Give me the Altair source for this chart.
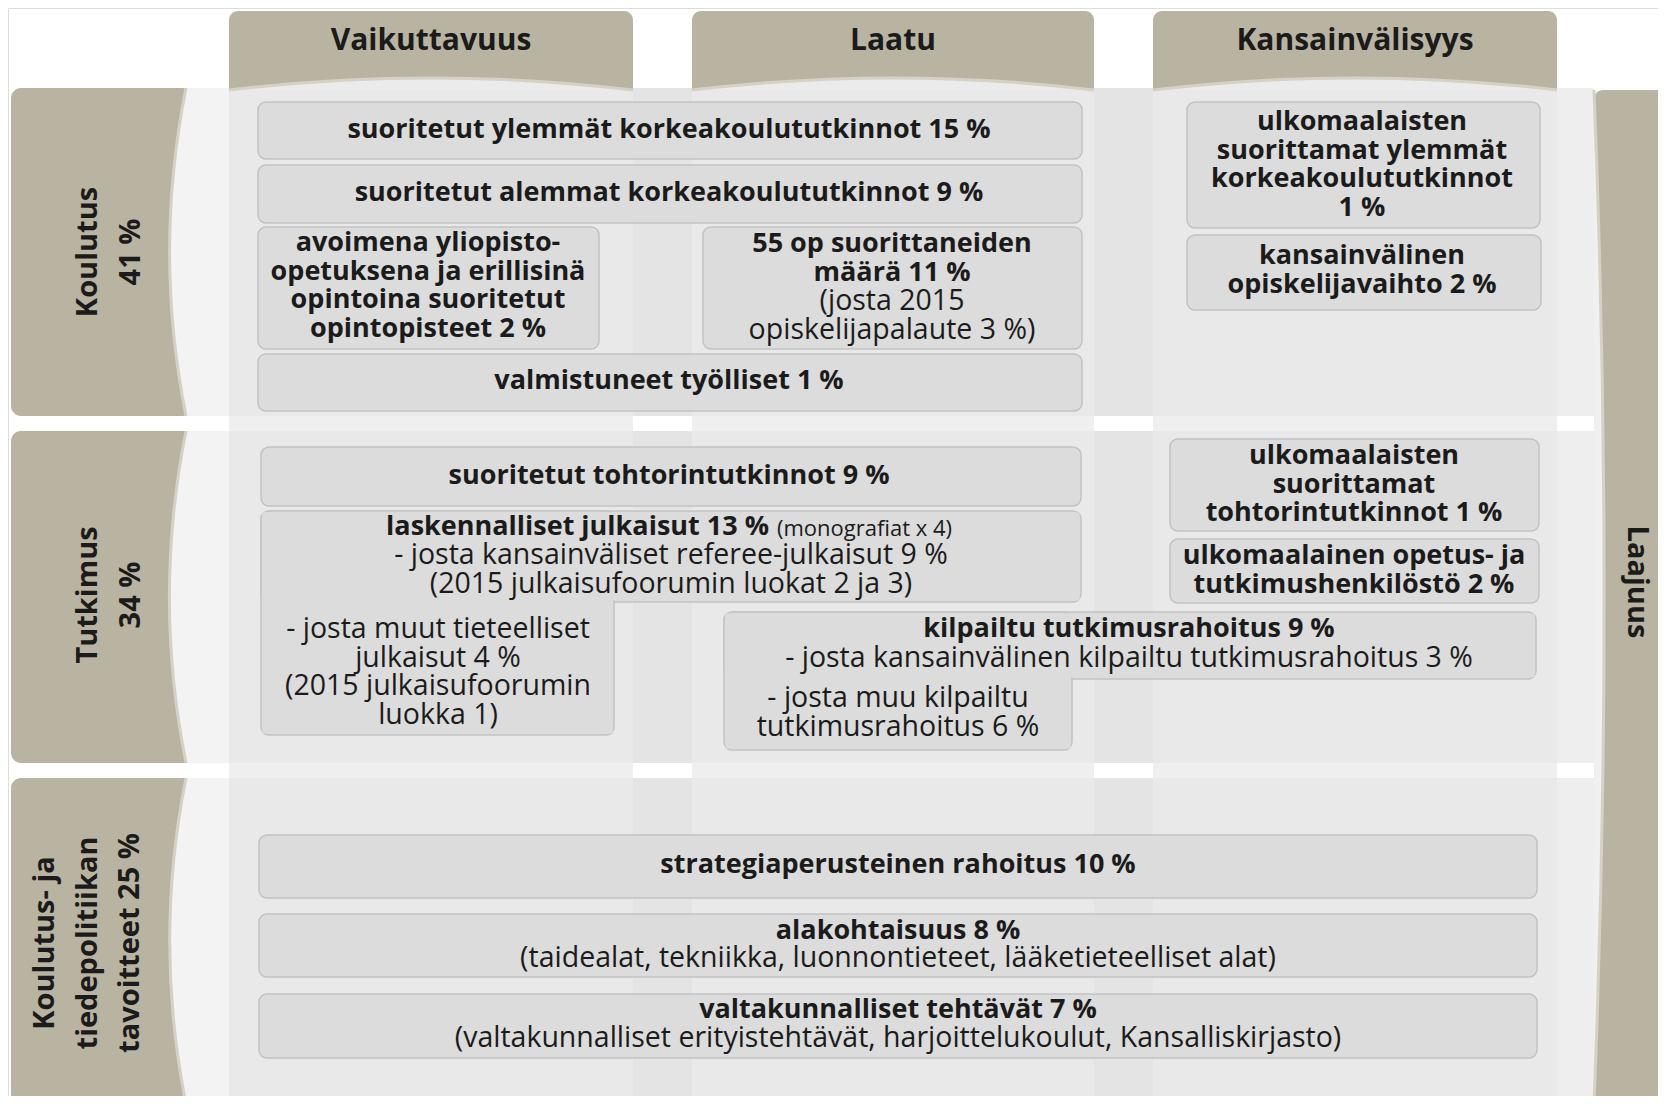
import altair as alt
import pandas as pd

# ---------------- content ----------------
col_names = ["Vaikuttavuus", "Laatu", "Kansainvälisyys"]
row_names = ["Koulutus\n41 %", "Tutkimus\n34 %",
             "Koulutus- ja\ntiedepolitiikan\ntavoitteet  25 %"]
side_name = "Laajuus"

bold_texts = [
    "suoritetut ylemmät korkeakoulututkinnot 15 %",
    "suoritetut alemmat korkeakoulututkinnot  9 %",
    "avoimena yliopisto-\nopetuksena ja erillisinä\nopintoina suoritetut\nopintopisteet 2 %",
    "55 op suorittaneiden\nmäärä 11 %",
    "valmistuneet työlliset 1 %",
    "ulkomaalaisten\nsuorittamat ylemmät\nkorkeakoulututkinnot\n1 %",
    "kansainvälinen\nopiskelijavaihto 2 %",
    "suoritetut tohtorintutkinnot 9 %",
    "ulkomaalaisten\nsuorittamat\ntohtorintutkinnot 1 %",
    "ulkomaalainen opetus- ja\ntutkimushenkilöstö 2 %",
    "kilpailtu tutkimusrahoitus 9 %",
    "strategiaperusteinen rahoitus 10 %",
    "alakohtaisuus 8 %",
    "valtakunnalliset tehtävät 7 %",
]
normal_texts = [
    "(josta 2015\nopiskelijapalaute 3 %)",
    "- josta kansainväliset referee-julkaisut 9 %\n(2015 julkaisufoorumin luokat 2 ja 3)",
    "- josta muut tieteelliset\njulkaisut 4 %\n(2015 julkaisufoorumin\nluokka 1)",
    "- josta kansainvälinen kilpailtu tutkimusrahoitus 3 %",
    "- josta muu kilpailtu\ntutkimusrahoitus 6 %",
    "(taidealat, tekniikka, luonnontieteet, lääketieteelliset alat)",
    "(valtakunnalliset erityistehtävät, harjoittelukoulut, Kansalliskirjasto)",
]
lead_text = "laskennalliset julkaisut 13 %"
note_text = "(monografiat x 4)"

# ---------------- layout (reference pixel frame) ----------------
col_left = [229, 692, 1153]
col_right = [633, 1094, 1557]
col_tab_top = 11
col_tab_bottom = 90
col_label_y = 41

row_top = [88, 431, 778]
row_bottom = [416, 763, 1104]
row_label_x = [88, 88, 45]      # first text line
row_label_y = [252, 595, 943]
tab_left, tab_right = 11, 186
band_right = 1594
side_right = 1666
side_label_x = 1637
side_label_y = 582

box_x0 = [258, 258, 258, 703, 258, 1187, 1187, 261, 261, 261, 1170, 1170, 724, 724, 259, 259, 259]
box_x1 = [1082, 1082, 599, 1082, 1082, 1540, 1541, 1081, 1081, 614, 1539, 1539, 1536, 1072, 1537, 1537, 1537]
box_y0 = [102, 165, 227, 227, 354, 102, 235, 447, 511, 511, 439, 539, 612, 612, 835, 914, 994]
box_y1 = [159, 223, 349, 349, 411, 228, 310, 506, 602, 735, 531, 603, 679, 750, 898, 977, 1058]
box_joined = [0, 0, 0, 0, 0, 0, 0, 0, 1, 1, 0, 0, 1, 1, 0, 0, 0]

# y of the first line of each text block
bold_x = [669, 669, 428, 892, 669, 1362, 1362, 669, 1354, 1354, 1129, 898, 898, 898]
bold_y = [130, 193, 243, 244, 381, 122, 256, 476, 456, 556, 629, 865, 931, 1010]
normal_x = [892, 671, 438, 1129, 898, 898, 898]
normal_y = [301, 555, 629, 658, 698, 958, 1038]
lead_x_end, lead_y = 769, 527
note_x, note_y = 777, 529

# ---------------- styling ----------------
TAUPE = "#b9b4a2"
RIM = "#d5d1c5"
BAND = "#e4e4e4"
BOX = "#dcdcdc"
BOX_EDGE = "#c2c2c2"
INK = "#1b1b1b"
FONT = "Open Sans"
LINE = 28.5

XS = alt.Scale(domain=[8, 1658], nice=False, zero=False)
YS = alt.Scale(domain=[8, 1096], nice=False, zero=False, reverse=True)


def rect_layer(df, **mark):
    return alt.Chart(df).mark_rect(**mark).encode(
        x=alt.X("x0:Q", scale=XS, axis=None), x2="x1:Q",
        y=alt.Y("y0:Q", scale=YS, axis=None), y2="y1:Q")


def point_layer(df, **mark):
    return alt.Chart(df).mark_point(**mark).encode(
        x=alt.X("x:Q", scale=XS, axis=None),
        y=alt.Y("y:Q", scale=YS, axis=None),
        size=alt.Size("s:Q", scale=None, legend=None))


def text_layer(df, **mark):
    return alt.Chart(df).mark_text(lineBreak="\n", color=INK, font=FONT, **mark).encode(
        x=alt.X("x:Q", scale=XS, axis=None),
        y=alt.Y("y:Q", scale=YS, axis=None),
        text="t:N")


# column tabs and strips
col_tabs = pd.DataFrame({"x0": col_left, "x1": col_right,
                         "y0": [col_tab_top] * 3, "y1": [col_tab_bottom] * 3})
col_strips = pd.DataFrame({"x0": col_left, "x1": col_right,
                           "y0": [col_tab_bottom] * 3, "y1": [1110] * 3})
col_bulge = pd.DataFrame({"x": [(a + b) / 2 for a, b in zip(col_left, col_right)],
                          "y": [col_tab_bottom] * 3,
                          "s": [(b - a) ** 2 for a, b in zip(col_left, col_right)]})

# row bands and tabs
bands = pd.DataFrame({"x0": [tab_right] * 3, "x1": [band_right] * 3,
                      "y0": row_top, "y1": row_bottom})
band_left_light = pd.DataFrame({"x0": [tab_right] * 3, "x1": [col_left[0]] * 3,
                                "y0": row_top, "y1": row_bottom})
band_right_light = pd.DataFrame({"x0": [col_right[-1]] * 3, "x1": [band_right] * 3,
                                 "y0": row_top, "y1": row_bottom})
row_tabs = pd.DataFrame({"x0": [tab_left] * 3, "x1": [tab_right] * 3,
                         "y0": row_top, "y1": row_bottom})
row_bulge = pd.DataFrame({"x": [tab_right] * 3,
                          "y": [(a + b) / 2 for a, b in zip(row_top, row_bottom)],
                          "s": [(b - a) ** 2 for a, b in zip(row_top, row_bottom)]})

side_tab = pd.DataFrame({"x0": [band_right], "x1": [side_right + 10],
                         "y0": [col_tab_bottom], "y1": [1110]})
side_bulge = pd.DataFrame({"x": [band_right], "y": [(col_tab_bottom + 1104) / 2],
                           "s": [(1104 - col_tab_bottom) ** 2]})

boxes = pd.DataFrame({"x0": box_x0, "x1": box_x1, "y0": box_y0, "y1": box_y1,
                      "joined": box_joined})
covers = boxes[boxes.joined == 1].copy()
covers["x0"] += 1.5
covers["x1"] -= 1.5
covers["y0"] += 1.5
covers["y1"] -= 1.5

layers = [
    rect_layer(col_strips, color="#ececec"),
    rect_layer(bands, color=BAND),
    rect_layer(band_left_light, color="#f3f3f3"),
    rect_layer(band_right_light, color="#eeeeee"),
    rect_layer(col_strips, color="#f4f4f4", opacity=0.3),
    rect_layer(col_tabs, color=TAUPE, cornerRadiusTopLeft=9, cornerRadiusTopRight=9),
    point_layer(col_bulge, shape="M -1 0 Q 0 -0.12 1 0 Z", filled=True,
                color="#ebebeb", opacity=1),
    point_layer(col_bulge, shape="M -1 0 Q 0 -0.12 1 0", filled=False,
                color=RIM, strokeWidth=3, opacity=1),
    rect_layer(row_tabs, color=TAUPE, cornerRadiusTopLeft=10, cornerRadiusBottomLeft=10),
    point_layer(row_bulge, shape="M 0 -1 Q -0.2 0 0 1 Z", filled=True,
                color="#f3f3f3", opacity=1),
    point_layer(row_bulge, shape="M 0 -1 Q -0.2 0 0 1", filled=False,
                color=RIM, strokeWidth=3, opacity=1),
    rect_layer(side_tab, color=TAUPE, cornerRadiusTopLeft=9),
    point_layer(side_bulge, shape="M 0 -1 Q 0.04 0 0 1 Z", filled=True,
                color="#f0f0f0", opacity=1),
    point_layer(side_bulge, shape="M 0 -1 Q 0.04 0 0 1", filled=False,
                color=RIM, strokeWidth=3, opacity=1),
    rect_layer(boxes, fill=BOX, stroke=BOX_EDGE, strokeWidth=1.5, cornerRadius=8),
    rect_layer(covers, color=BOX),
    # texts
    text_layer(pd.DataFrame({"x": [(a + b) / 2 for a, b in zip(col_left, col_right)],
                             "y": [col_label_y] * 3, "t": col_names}),
               fontSize=30, fontWeight="bold", align="center", baseline="middle"),
    text_layer(pd.DataFrame({"x": row_label_x, "y": row_label_y, "t": row_names}),
               fontSize=29, fontWeight="bold", align="center", baseline="middle",
               angle=270, lineHeight=42.5),
    text_layer(pd.DataFrame({"x": [side_label_x], "y": [side_label_y], "t": [side_name]}),
               fontSize=29, fontWeight="bold", align="center", baseline="middle", angle=90),
    text_layer(pd.DataFrame({"x": bold_x, "y": bold_y, "t": bold_texts}),
               fontSize=27, fontWeight="bold", align="center", baseline="middle",
               lineHeight=LINE),
    text_layer(pd.DataFrame({"x": normal_x, "y": normal_y, "t": normal_texts}),
               fontSize=28.5, fontWeight="normal", align="center", baseline="middle",
               lineHeight=LINE),
    text_layer(pd.DataFrame({"x": [lead_x_end], "y": [lead_y], "t": [lead_text]}),
               fontSize=27, fontWeight="bold", align="right", baseline="middle"),
    text_layer(pd.DataFrame({"x": [note_x], "y": [note_y], "t": [note_text]}),
               fontSize=22, fontWeight="normal", align="left", baseline="middle"),
]

chart = alt.layer(*layers).properties(
    width=1650, height=1088, padding=0, autosize="none"
).configure_view(strokeWidth=0).configure(background="white")

chart.save("out.html", embed_options={"renderer": "svg", "actions": False})
